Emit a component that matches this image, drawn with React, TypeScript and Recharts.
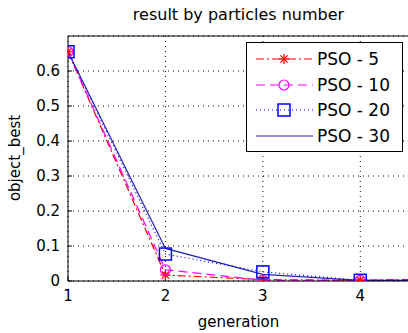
import React from "react";
import {
  LineChart,
  Line,
  XAxis,
  YAxis,
  CartesianGrid,
  ReferenceLine,
} from "recharts";

const generations = [1, 2, 3, 4, 5];
const pso5 = [0.655, 0.017, 0.004, 0.002, 0.006];
const pso10 = [0.655, 0.032, 0.002, 0.002, 0.003];
const pso20 = [0.655, 0.077, 0.026, 0.002, 0.001];
const pso30 = [0.655, 0.093, 0.019, 0.002, 0.001];
const xTicks = [1, 2, 3, 4];
const yTicks = [0, 0.1, 0.2, 0.3, 0.4, 0.5, 0.6];
const seriesNames = ["PSO - 5", "PSO - 10", "PSO - 20", "PSO - 30"];

const data = generations.map((g, i) => ({
  g,
  pso5: pso5[i],
  pso10: pso10[i],
  pso20: pso20[i],
  pso30: pso30[i],
}));

const FONT = "'DejaVu Sans', Arial, sans-serif";
const RED = "#ff0000";
const MAGENTA = "#ff00ff";
const BLUE = "#0000ff";
const NAVY = "#2020b8";

const StarMark = ({ cx, cy, r = 5 }: { cx: number; cy: number; r?: number }) => {
  const d = r * 0.72;
  return (
    <g stroke={RED} strokeWidth={1.3}>
      <line x1={cx - r} y1={cy} x2={cx + r} y2={cy} />
      <line x1={cx} y1={cy - r} x2={cx} y2={cy + r} />
      <line x1={cx - d} y1={cy - d} x2={cx + d} y2={cy + d} />
      <line x1={cx - d} y1={cy + d} x2={cx + d} y2={cy - d} />
    </g>
  );
};
const CircleMark = ({ cx, cy }: { cx: number; cy: number }) => (
  <circle cx={cx} cy={cy} r={5} fill="none" stroke={MAGENTA} strokeWidth={1.2} />
);
const SquareMark = ({ cx, cy }: { cx: number; cy: number }) => (
  <rect x={cx - 6} y={cy - 6} width={12} height={12} fill="none" stroke={BLUE} strokeWidth={1.5} />
);

const dotFn = (Comp: any, prefix: string) => (props: any) => {
  const { cx, cy, index } = props;
  if (cx == null || cy == null) return <g key={`${prefix}-${index}`} />;
  return (
    <g key={`${prefix}-${index}`}>
      <Comp cx={cx} cy={cy} />
    </g>
  );
};

const legendRows = [
  { name: seriesNames[0], color: RED, dash: "8 3 2 3", mark: StarMark },
  { name: seriesNames[1], color: MAGENTA, dash: "9 5", mark: CircleMark },
  { name: seriesNames[2], color: BLUE, dash: "1 3", mark: SquareMark },
  { name: seriesNames[3], color: NAVY, dash: undefined, mark: null },
];

const LegendBox = () => (
  <div
    style={{
      position: "absolute",
      left: 246,
      top: 42,
      width: 157,
      height: 110,
      border: "1px solid #000",
      background: "#fff",
      boxSizing: "border-box",
      paddingTop: 3,
      zIndex: 3,
    }}
  >
    {legendRows.map((r) => {
      const M: any = r.mark;
      return (
        <div key={r.name} style={{ display: "flex", alignItems: "center", height: 25.7 }}>
          <svg width={70} height={24} style={{ flex: "none" }}>
            <line x1={9} y1={12} x2={66} y2={12} stroke={r.color} strokeWidth={1.2} strokeDasharray={r.dash} />
            {M ? <M cx={37} cy={12} /> : null}
          </svg>
          <span style={{ fontFamily: FONT, fontSize: 17, color: "#000", lineHeight: "20px" }}>{r.name}</span>
        </div>
      );
    })}
  </div>
);

export default function App() {
  return (
    <div
      style={{
        position: "fixed",
        left: 0,
        top: 0,
        width: 408,
        height: 333,
        overflow: "hidden",
        background: "#fff",
      }}
    >
      <div
        style={{
          position: "absolute",
          left: 68,
          top: 5,
          width: 341,
          textAlign: "center",
          fontFamily: FONT,
          fontSize: 16,
          lineHeight: "20px",
          color: "#000",
        }}
      >
        result by particles number
      </div>
      <div
        style={{
          position: "absolute",
          left: 15 - 100,
          top: 158 - 10,
          width: 200,
          height: 20,
          lineHeight: "20px",
          textAlign: "center",
          transform: "rotate(-90deg)",
          fontFamily: FONT,
          fontSize: 15,
          color: "#000",
          zIndex: 2,
        }}
      >
        object_best
      </div>
      <div
        style={{
          position: "absolute",
          left: 68,
          top: 312,
          width: 341,
          textAlign: "center",
          fontFamily: FONT,
          fontSize: 15,
          lineHeight: "20px",
          color: "#000",
          zIndex: 2,
        }}
      >
        generation
      </div>
      <LineChart
        width={420}
        height={333}
        data={data}
        margin={{ top: 36, right: 11, bottom: 0, left: 0 }}
      >
        <CartesianGrid stroke="#000" strokeDasharray="1 4" />
        <XAxis
          dataKey="g"
          type="number"
          domain={[1, 4.5]}
          ticks={xTicks}
          allowDataOverflow
          height={52}
          axisLine={{ stroke: "#000" }}
          tickLine={{ stroke: "#000" }}
          tickSize={-4}
          tickMargin={13}
          tick={{ fill: "#000", fontSize: 15, fontFamily: FONT }}
          interval={0}
        />
        <YAxis
          type="number"
          domain={[0, 0.7]}
          ticks={yTicks}
          allowDataOverflow
          width={68}
          axisLine={{ stroke: "#000" }}
          tickLine={{ stroke: "#000" }}
          tickSize={-4}
          tickMargin={12}
          tick={{ fill: "#000", fontSize: 15, fontFamily: FONT }}
          tickFormatter={(v: number) => (v === 0 ? "0" : String(v))}
          interval={0}
        />
        <ReferenceLine y={0.7} stroke="#000" strokeWidth={1} />
        <Line
          dataKey="pso5"
          name={seriesNames[0]}
          stroke={RED}
          strokeWidth={1.2}
          strokeDasharray="8 3 2 3"
          dot={dotFn(StarMark, "s5")}
          isAnimationActive={false}
        />
        <Line
          dataKey="pso10"
          name={seriesNames[1]}
          stroke={MAGENTA}
          strokeWidth={1.2}
          strokeDasharray="9 5"
          dot={dotFn(CircleMark, "s10")}
          isAnimationActive={false}
        />
        <Line
          dataKey="pso20"
          name={seriesNames[2]}
          stroke={BLUE}
          strokeWidth={1.2}
          strokeDasharray="1 3"
          dot={dotFn(SquareMark, "s20")}
          isAnimationActive={false}
        />
        <Line
          dataKey="pso30"
          name={seriesNames[3]}
          stroke={NAVY}
          strokeWidth={1.2}
          dot={false}
          isAnimationActive={false}
        />
      </LineChart>
      <LegendBox />
    </div>
  );
}
